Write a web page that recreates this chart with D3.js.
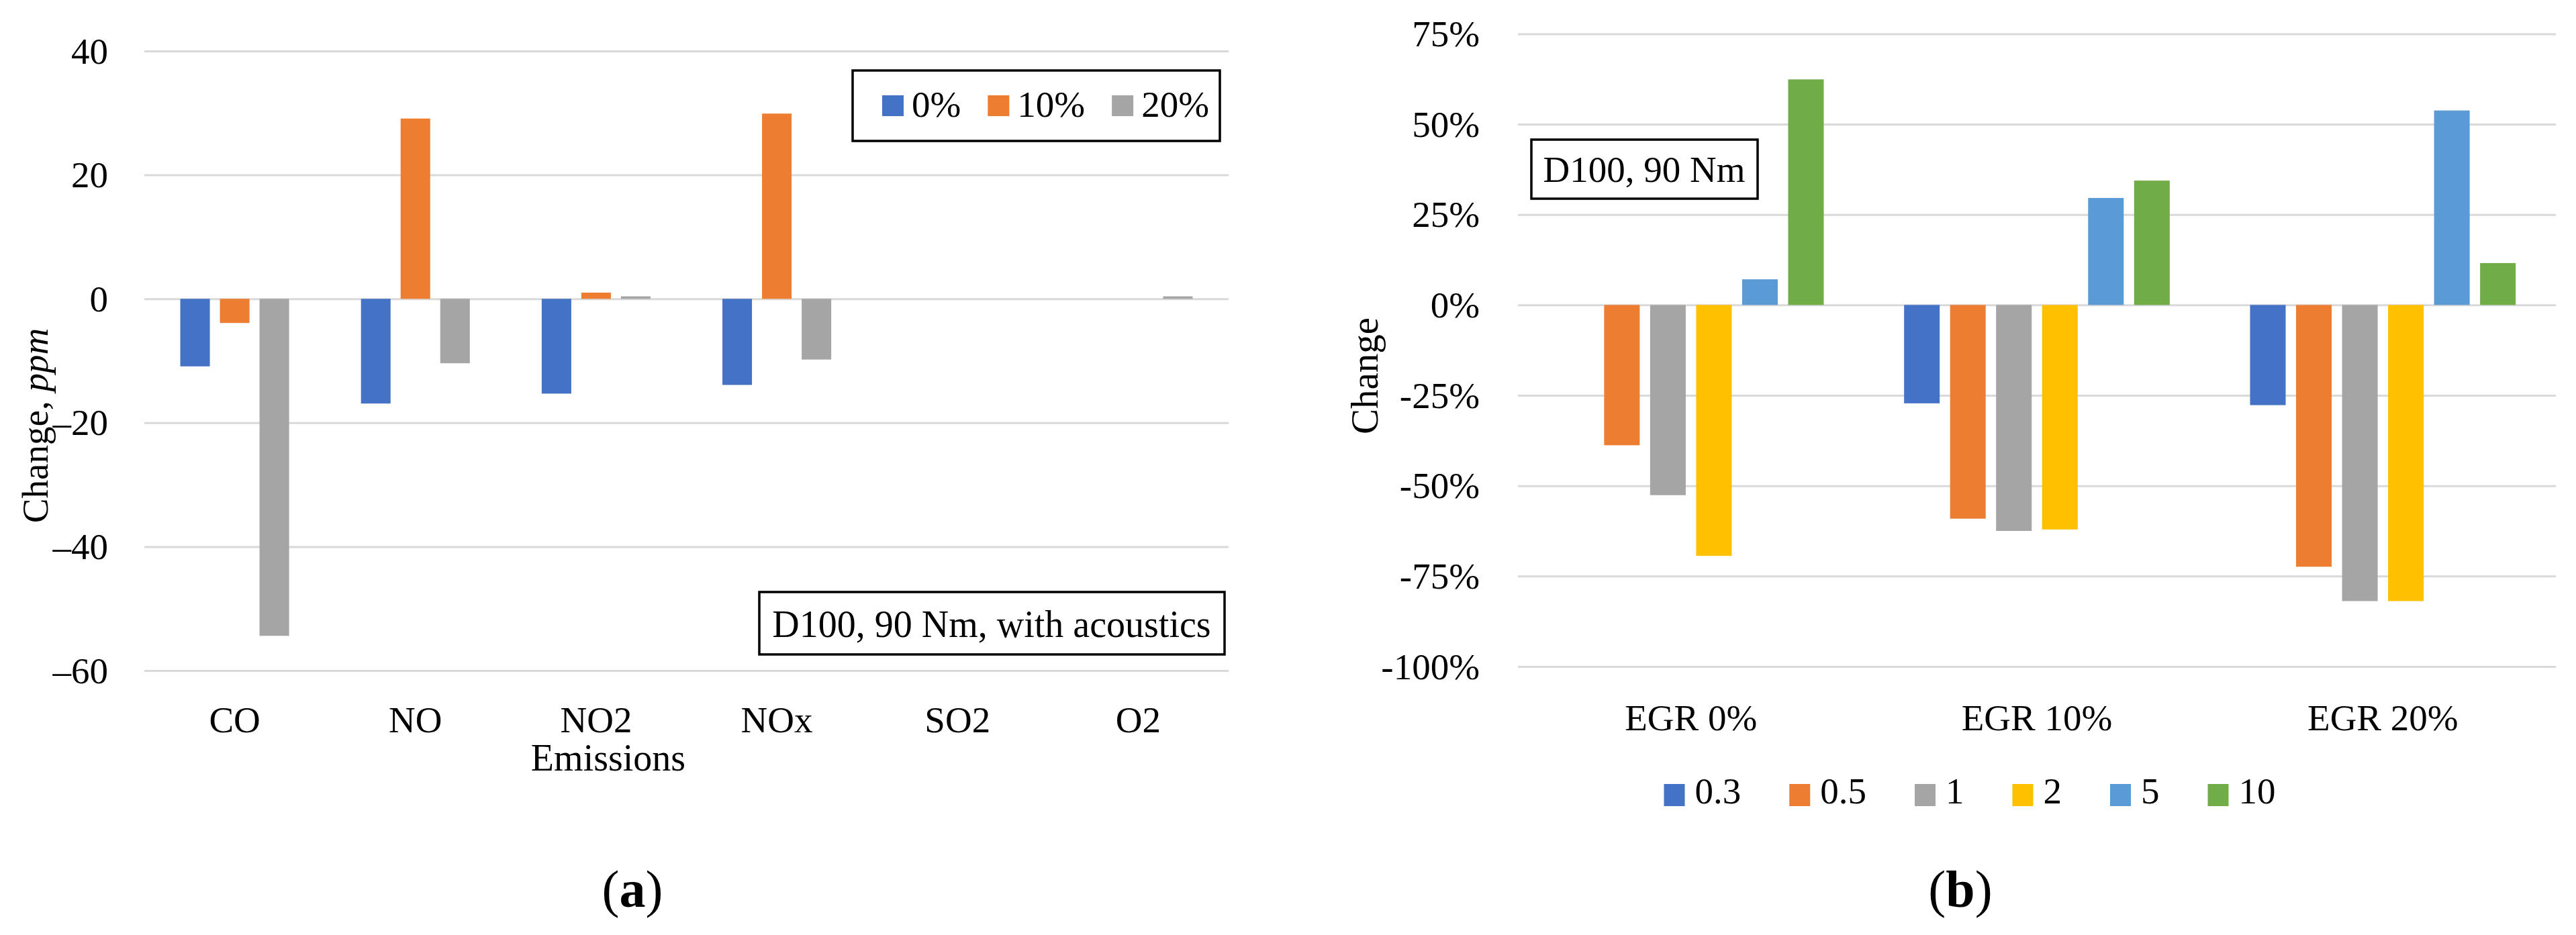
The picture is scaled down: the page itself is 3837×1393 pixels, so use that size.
<!DOCTYPE html>
<html>
<head>
<meta charset="utf-8">
<script src="https://cdn.jsdelivr.net/npm/d3@7"></script>
<style>
  body { margin: 0; background: #fff; }
  text { font-family: "Liberation Serif", "Times New Roman", serif; fill: #000; }
</style>
</head>
<body>
<svg id="chart"></svg>
<script>
// Panel (a): change in emissions, ppm
const emissions = ["CO", "NO", "NO2", "NOx", "SO2", "O2"];
const egrSeries = ["0%", "10%", "20%"];
const egr0 = [-10.9, -16.9, -15.3, -13.9, 0, 0];
const egr10 = [-3.9, 29.1, 1.0, 29.9, 0, 0];
const egr20 = [-54.4, -10.4, 0.4, -9.8, 0, 0.4];
const ticksA = [-60, -40, -20, 0, 20, 40];

// Panel (b): relative change, %
const egrLevels = ["EGR 0%", "EGR 10%", "EGR 20%"];
const ratios = ["0.3", "0.5", "1", "2", "5", "10"];
const r03 = [0, -27.2, -27.7];
const r05 = [-38.8, -59.1, -72.4];
const r1 = [-52.6, -62.5, -81.9];
const r2 = [-69.4, -62.1, -81.9];
const r5 = [7.1, 29.6, 53.8];
const r10 = [62.4, 34.4, 11.6];
const ticksB = [-100, -75, -50, -25, 0, 25, 50, 75];

const colorsA = ["#4472C4", "#ED7D31", "#A5A5A5"];
const colorsB = ["#4472C4", "#ED7D31", "#A5A5A5", "#FFC000", "#5B9BD5", "#70AD47"];

const width = 3837;
const height = 1393;
const fs = 55;

const svg = d3.select("#chart")
    .attr("width", width)
    .attr("height", height);

svg.append("rect").attr("width", width).attr("height", height).attr("fill", "#fff");

// draws one grouped bar panel
function panel(opts) {
    const g = svg.append("g");
    const x0 = d3.scaleBand().domain(opts.cats).range([opts.left, opts.right]);
    const x1 = d3.scaleBand().domain(opts.series).range([0, x0.bandwidth()])
        .paddingInner(opts.pi).paddingOuter(opts.po);
    const y = d3.scaleLinear().domain(opts.yDomain).range([opts.bottom, opts.top]);

    // gridlines + tick labels
    const axis = g.append("g")
        .attr("transform", `translate(${opts.left},0)`)
        .call(d3.axisLeft(y)
            .tickValues(opts.ticks)
            .tickSize(-(opts.right - opts.left))
            .tickPadding(opts.tickPad)
            .tickFormat(opts.fmt));
    axis.select(".domain").remove();
    axis.selectAll("line").attr("stroke", "#D9D9D9").attr("stroke-width", 3);
    axis.selectAll("text")
        .attr("font-size", fs)
        .attr("font-family", "Liberation Serif")
        .attr("fill", "#000")
        .attr("dy", "0.33em");

    // bars
    const rows = [];
    opts.cats.forEach((c, i) => {
        opts.series.forEach((s, j) => {
            rows.push({ cat: c, s: s, v: opts.values[j][i], j: j });
        });
    });
    g.selectAll("rect.bar")
        .data(rows)
        .enter()
        .append("rect")
        .attr("class", "bar")
        .attr("x", d => x0(d.cat) + x1(d.s))
        .attr("width", x1.bandwidth())
        .attr("y", d => y(Math.max(0, d.v)))
        .attr("height", d => Math.abs(y(d.v) - y(0)))
        .attr("fill", d => opts.colors[d.j]);

    // category labels
    g.selectAll("text.cat")
        .data(opts.cats)
        .enter()
        .append("text")
        .attr("class", "cat")
        .attr("x", d => x0(d) + x0.bandwidth() / 2)
        .attr("y", opts.catY)
        .attr("text-anchor", "middle")
        .attr("font-size", fs)
        .text(d => d);

    return { g, x0, y };
}

// ---------- (a) ----------
panel({
    cats: emissions, series: egrSeries, values: [egr0, egr10, egr20],
    colors: colorsA, left: 215, right: 1830, top: 76, bottom: 999,
    yDomain: [-60, 40], ticks: ticksA, tickPad: 54,
    fmt: d => (d < 0 ? "\u2013" + Math.abs(d) : d),
    pi: 0.254, po: 0.907, catY: 1091
});

// y title
const ta = svg.append("text")
    .attr("transform", "translate(71,634) rotate(-90)")
    .attr("text-anchor", "middle")
    .attr("font-size", fs);
ta.append("tspan").text("Change, ");
ta.append("tspan").attr("font-style", "italic").text("ppm");

svg.append("text")
    .attr("x", 906).attr("y", 1148)
    .attr("text-anchor", "middle")
    .attr("font-size", fs + 1)
    .text("Emissions");

// legend (a)
svg.append("rect")
    .attr("x", 1270).attr("y", 105).attr("width", 547).attr("height", 105)
    .attr("fill", "#fff").attr("stroke", "#000").attr("stroke-width", 3.5);
let lx = 1314;
egrSeries.forEach((s, i) => {
    svg.append("rect").attr("x", lx).attr("y", 142).attr("width", 32).attr("height", 31)
        .attr("fill", colorsA[i]);
    const t = svg.append("text").attr("x", lx + 44).attr("y", 174)
        .attr("font-size", fs).text(s);
    lx += 44 + t.node().getComputedTextLength() + 40;
});

// note box (a)
svg.append("rect")
    .attr("x", 1131).attr("y", 882).attr("width", 693).attr("height", 93)
    .attr("fill", "#fff").attr("stroke", "#000").attr("stroke-width", 3.5);
svg.append("text")
    .attr("x", 1477).attr("y", 949)
    .attr("text-anchor", "middle")
    .attr("font-size", fs + 1)
    .text("D100, 90 Nm, with acoustics");

// ---------- (b) ----------
panel({
    cats: egrLevels, series: ratios, values: [r03, r05, r1, r2, r5, r10],
    colors: colorsB, left: 2261, right: 3807, top: 50.4, bottom: 993,
    yDomain: [-100, 75], ticks: ticksB, tickPad: 57,
    fmt: d => d + "%",
    pi: 0.226, po: 0.873, catY: 1088
});

svg.append("text")
    .attr("transform", "translate(2052,560) rotate(-90)")
    .attr("text-anchor", "middle")
    .attr("font-size", fs + 2)
    .text("Change");

// note box (b)
svg.append("rect")
    .attr("x", 2281).attr("y", 208).attr("width", 337).attr("height", 88)
    .attr("fill", "#fff").attr("stroke", "#000").attr("stroke-width", 3.5);
svg.append("text")
    .attr("x", 2449).attr("y", 271)
    .attr("text-anchor", "middle")
    .attr("font-size", fs)
    .text("D100, 90 Nm");

// legend (b), centred at 2934
const lg = svg.append("g");
let bx = 0;
ratios.forEach((s, i) => {
    lg.append("rect").attr("x", bx).attr("y", 1168).attr("width", 31).attr("height", 33)
        .attr("fill", colorsB[i]);
    const t = lg.append("text").attr("x", bx + 46).attr("y", 1197)
        .attr("font-size", fs).text(s);
    bx += 46 + t.node().getComputedTextLength() + 72;
});
const lgW = bx - 72;
lg.attr("transform", `translate(${2934 - lgW / 2},0)`);

// panel letters
[["a", 942], ["b", 2920]].forEach(([l, cx]) => {
    const t = svg.append("text")
        .attr("x", cx).attr("y", 1351)
        .attr("text-anchor", "middle")
        .attr("font-size", 78);
    t.append("tspan").text("(");
    t.append("tspan").attr("font-weight", "bold").text(l);
    t.append("tspan").text(")");
});
</script>
</body>
</html>
